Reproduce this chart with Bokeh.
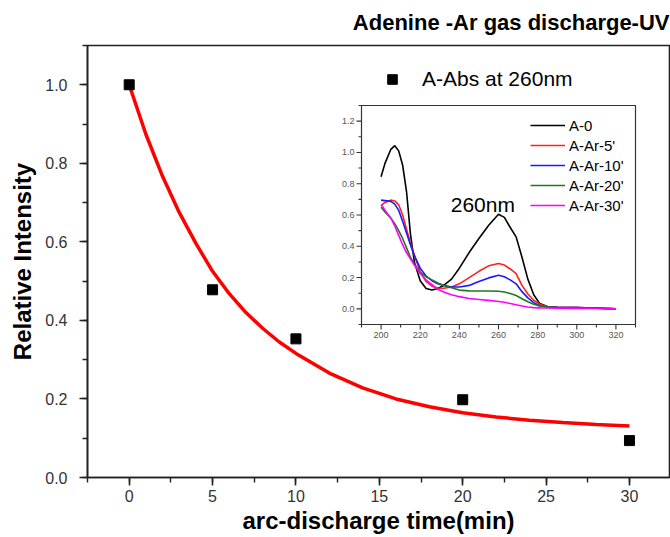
from bokeh.plotting import figure
from bokeh.models import (Range1d, SingleIntervalTicker, NumeralTickFormatter,
                          Legend, LegendItem)
from bokeh.core.properties import value
from bokeh.embed import file_html
from bokeh.resources import INLINE

FONT = "Liberation Sans"

# Relative absorbance at 260 nm versus discharge time
time_min = [0, 5, 10, 20, 30]
abs_260 = [1.0, 0.478, 0.353, 0.198, 0.094]

# Exponential decay fit through the measurements
fit_time = [0, 1, 2, 3, 4, 5, 6, 7, 8, 9, 10, 12, 14, 16, 18, 20, 22, 24, 26, 28, 30]
fit_rel = [1.0, 0.874, 0.767, 0.675, 0.596, 0.525, 0.468, 0.420, 0.380, 0.345, 0.316,
           0.266, 0.228, 0.200, 0.180, 0.165, 0.154, 0.146, 0.140, 0.135, 0.131]

# UV spectra (absorbance vs wavelength, nm)
wavelength = [200, 202, 205, 207, 209, 211, 213, 215, 217, 220, 223, 226, 229, 232, 236,
              240, 245, 250, 255, 260, 263, 266, 269, 272, 275, 278, 281, 285, 290, 300,
              310, 320]
spec_a0 = [0.845, 0.93, 1.02, 1.043, 1.01, 0.92, 0.75, 0.48, 0.30, 0.18, 0.13, 0.12, 0.13,
           0.15, 0.19, 0.26, 0.36, 0.45, 0.535, 0.605, 0.585, 0.52, 0.46, 0.33, 0.19, 0.09,
           0.035, 0.015, 0.01, 0.008, 0.004, 0.0]
spec_ar5 = [0.66, 0.68, 0.695, 0.69, 0.665, 0.60, 0.51, 0.42, 0.345, 0.235, 0.175, 0.145,
            0.133, 0.132, 0.14, 0.16, 0.20, 0.24, 0.275, 0.29, 0.28, 0.255, 0.225, 0.15,
            0.095, 0.055, 0.03, 0.015, 0.01, 0.008, 0.005, 0.0]
spec_ar10 = [0.695, 0.692, 0.687, 0.67, 0.63, 0.56, 0.485, 0.41, 0.34, 0.26, 0.21, 0.18,
             0.16, 0.15, 0.14, 0.14, 0.15, 0.175, 0.198, 0.215, 0.205, 0.185, 0.16, 0.11,
             0.07, 0.04, 0.02, 0.012, 0.01, 0.008, 0.005, 0.0]
spec_ar20 = [0.65, 0.62, 0.58, 0.545, 0.50, 0.45, 0.39, 0.33, 0.285, 0.235, 0.205, 0.185,
             0.165, 0.15, 0.135, 0.12, 0.115, 0.114, 0.114, 0.113, 0.108, 0.098, 0.085,
             0.065, 0.045, 0.03, 0.018, 0.012, 0.009, 0.007, 0.004, 0.0]
spec_ar30 = [0.665, 0.63, 0.58, 0.53, 0.47, 0.41, 0.36, 0.32, 0.28, 0.226, 0.185, 0.155,
             0.125, 0.108, 0.09, 0.078, 0.066, 0.06, 0.054, 0.047, 0.042, 0.034, 0.026,
             0.018, 0.012, 0.008, 0.006, 0.005, 0.004, 0.003, 0.002, 0.0]
spec_labels = ["A-0", "A-Ar-5'", "A-Ar-10'", "A-Ar-20'", "A-Ar-30'"]
spec_colors = ["black", "#ff2020", "#1a1aff", "#1e7a1e", "#ff00ff"]

inset_xticks = [200, 220, 240, 260, 280, 300, 320]
inset_xminor = [190, 210, 230, 250, 270, 290, 310, 330]
inset_yticks = [0.0, 0.2, 0.4, 0.6, 0.8, 1.0, 1.2]
inset_yminor = [-0.1, 0.1, 0.3, 0.5, 0.7, 0.9, 1.1, 1.3]

# ---- layout (pixels) ----
W, H = 670, 537
FL, FR, FT, FB = 87, 669, 45, 477          # main frame
IL, IR, IT, IB = 361, 635, 105, 324        # inset box
IX = (190, 330)
IY = (-0.1, 1.3)

p = figure(width=W, height=H, x_range=Range1d(-2.5, 32.4), y_range=Range1d(0, 1.1),
           output_backend="svg", toolbar_location=None,
           min_border_left=FL, min_border_right=W - FR, min_border_top=FT,
           min_border_bottom=H - FB)
p.background_fill_color = "white"
p.border_fill_color = "white"
p.outline_line_color = "#222222"
p.outline_line_width = 1.6
p.xgrid.visible = False
p.ygrid.visible = False

p.title.text = "Adenine -Ar gas discharge-UV"
p.title.align = "right"
p.title.vertical_align = "top"
p.title.text_font = FONT
p.title.text_font_size = "22px"
p.title.text_font_style = "bold"
p.title.text_color = "black"
p.title.standoff = 18

for ax in (p.xaxis[0], p.yaxis[0]):
    ax.axis_line_color = "#222222"
    ax.axis_line_width = 1.6
    ax.major_tick_line_color = "#222222"
    ax.minor_tick_line_color = "#222222"
    ax.major_tick_line_width = 1.6
    ax.minor_tick_line_width = 1.4
    ax.major_tick_in = 0
    ax.major_tick_out = 8
    ax.minor_tick_in = 0
    ax.minor_tick_out = 5
    ax.major_label_text_font = FONT
    ax.major_label_text_font_size = "16px"
    ax.major_label_text_color = "#333333"
    ax.axis_label_text_font = FONT
    ax.axis_label_text_font_style = "bold"
    ax.axis_label_text_color = "black"

p.xaxis.ticker = SingleIntervalTicker(interval=5, num_minor_ticks=2)
p.yaxis.ticker = SingleIntervalTicker(interval=0.2, num_minor_ticks=2)
p.yaxis.formatter = NumeralTickFormatter(format="0.0")
p.xaxis.axis_label = "arc-discharge time(min)"
p.yaxis.axis_label = "Relative Intensity"
p.xaxis.axis_label_text_font_size = "24px"
p.yaxis.axis_label_text_font_size = "24px"
p.xaxis.major_label_standoff = 4
p.yaxis.major_label_standoff = 12
p.xaxis.axis_label_standoff = 2
p.yaxis.axis_label_standoff = 6

# main series
p.line(fit_time, fit_rel, line_color="#ff0000", line_width=3.5)
sq = p.scatter(time_min, abs_260, marker="square", size=10, fill_color="black",
               line_color="black")

leg = Legend(items=[LegendItem(label="A-Abs at 260nm", renderers=[sq])],
             location=(293, 386), orientation="vertical",
             border_line_color=None, background_fill_alpha=0,
             padding=0, margin=0, glyph_width=24, glyph_height=24,
             label_standoff=18, label_text_font=FONT, label_text_font_size="21px",
             label_text_color="black")
p.add_layout(leg, "center")

# ---- inset: spectra in their own ranges mapped into the inset box ----
sx = (IR - IL) / (IX[1] - IX[0])
sy = (IB - IT) / (IY[1] - IY[0])
p.extra_x_ranges = {"ix": Range1d(IX[0] - (IL - FL) / sx, IX[1] + (FR - IR) / sx)}
p.extra_y_ranges = {"iy": Range1d(IY[0] - (FB - IB) / sy, IY[1] + (IT - FT) / sy)}
kw = dict(x_range_name="ix", y_range_name="iy")

p.quad(left=[IX[0]], right=[IX[1]], bottom=[IY[0]], top=[IY[1]], fill_color="white",
       line_color="#333333", line_width=1.2, **kw)

# inset ticks (outward)
maj, mnr = 5 / sy, 3 / sy
p.segment(x0=inset_xticks, y0=[IY[0]] * len(inset_xticks), x1=inset_xticks,
          y1=[IY[0] - maj] * len(inset_xticks), line_color="#333333", line_width=1.1, **kw)
p.segment(x0=inset_xminor, y0=[IY[0]] * len(inset_xminor), x1=inset_xminor,
          y1=[IY[0] - mnr] * len(inset_xminor), line_color="#333333", line_width=1.1, **kw)
majx, mnrx = 5 / sx, 3 / sx
p.segment(x0=[IX[0]] * len(inset_yticks), y0=inset_yticks, x1=[IX[0] - majx] * len(inset_yticks),
          y1=inset_yticks, line_color="#333333", line_width=1.1, **kw)
p.segment(x0=[IX[0]] * len(inset_yminor), y0=inset_yminor, x1=[IX[0] - mnrx] * len(inset_yminor),
          y1=inset_yminor, line_color="#333333", line_width=1.1, **kw)

p.text(x=inset_xticks, y=[IY[0]] * len(inset_xticks), text=[str(t) for t in inset_xticks],
       text_align="center", text_baseline="top", y_offset=7,
       text_font=value(FONT), text_font_size="9px", text_color="#555555", **kw)
p.text(x=[IX[0]] * len(inset_yticks), y=inset_yticks, text=["%.1f" % t for t in inset_yticks],
       text_align="right", text_baseline="middle", x_offset=-7,
       text_font=value(FONT), text_font_size="9px", text_color="#555555", **kw)

spec_renderers = []
for ys, c in zip([spec_a0, spec_ar5, spec_ar10, spec_ar20, spec_ar30], spec_colors):
    spec_renderers.append(p.line(wavelength, ys, line_color=c, line_width=1.6, **kw))

p.text(x=[252], y=[0.665], text=["260nm"], text_align="center", text_baseline="middle",
       text_font=value(FONT), text_font_size="21px", text_color="black", **kw)

ileg = Legend(items=[LegendItem(label=l, renderers=[r]) for l, r in zip(spec_labels, spec_renderers)],
              location=(443, 262), border_line_color=None, background_fill_alpha=0,
              padding=0, margin=0, spacing=0, glyph_width=35, glyph_height=20,
              label_height=20, label_standoff=4, label_text_font=FONT,
              label_text_font_size="15px", label_text_color="black")
p.add_layout(ileg, "center")

open("out.html", "w").write(file_html(p, INLINE))
